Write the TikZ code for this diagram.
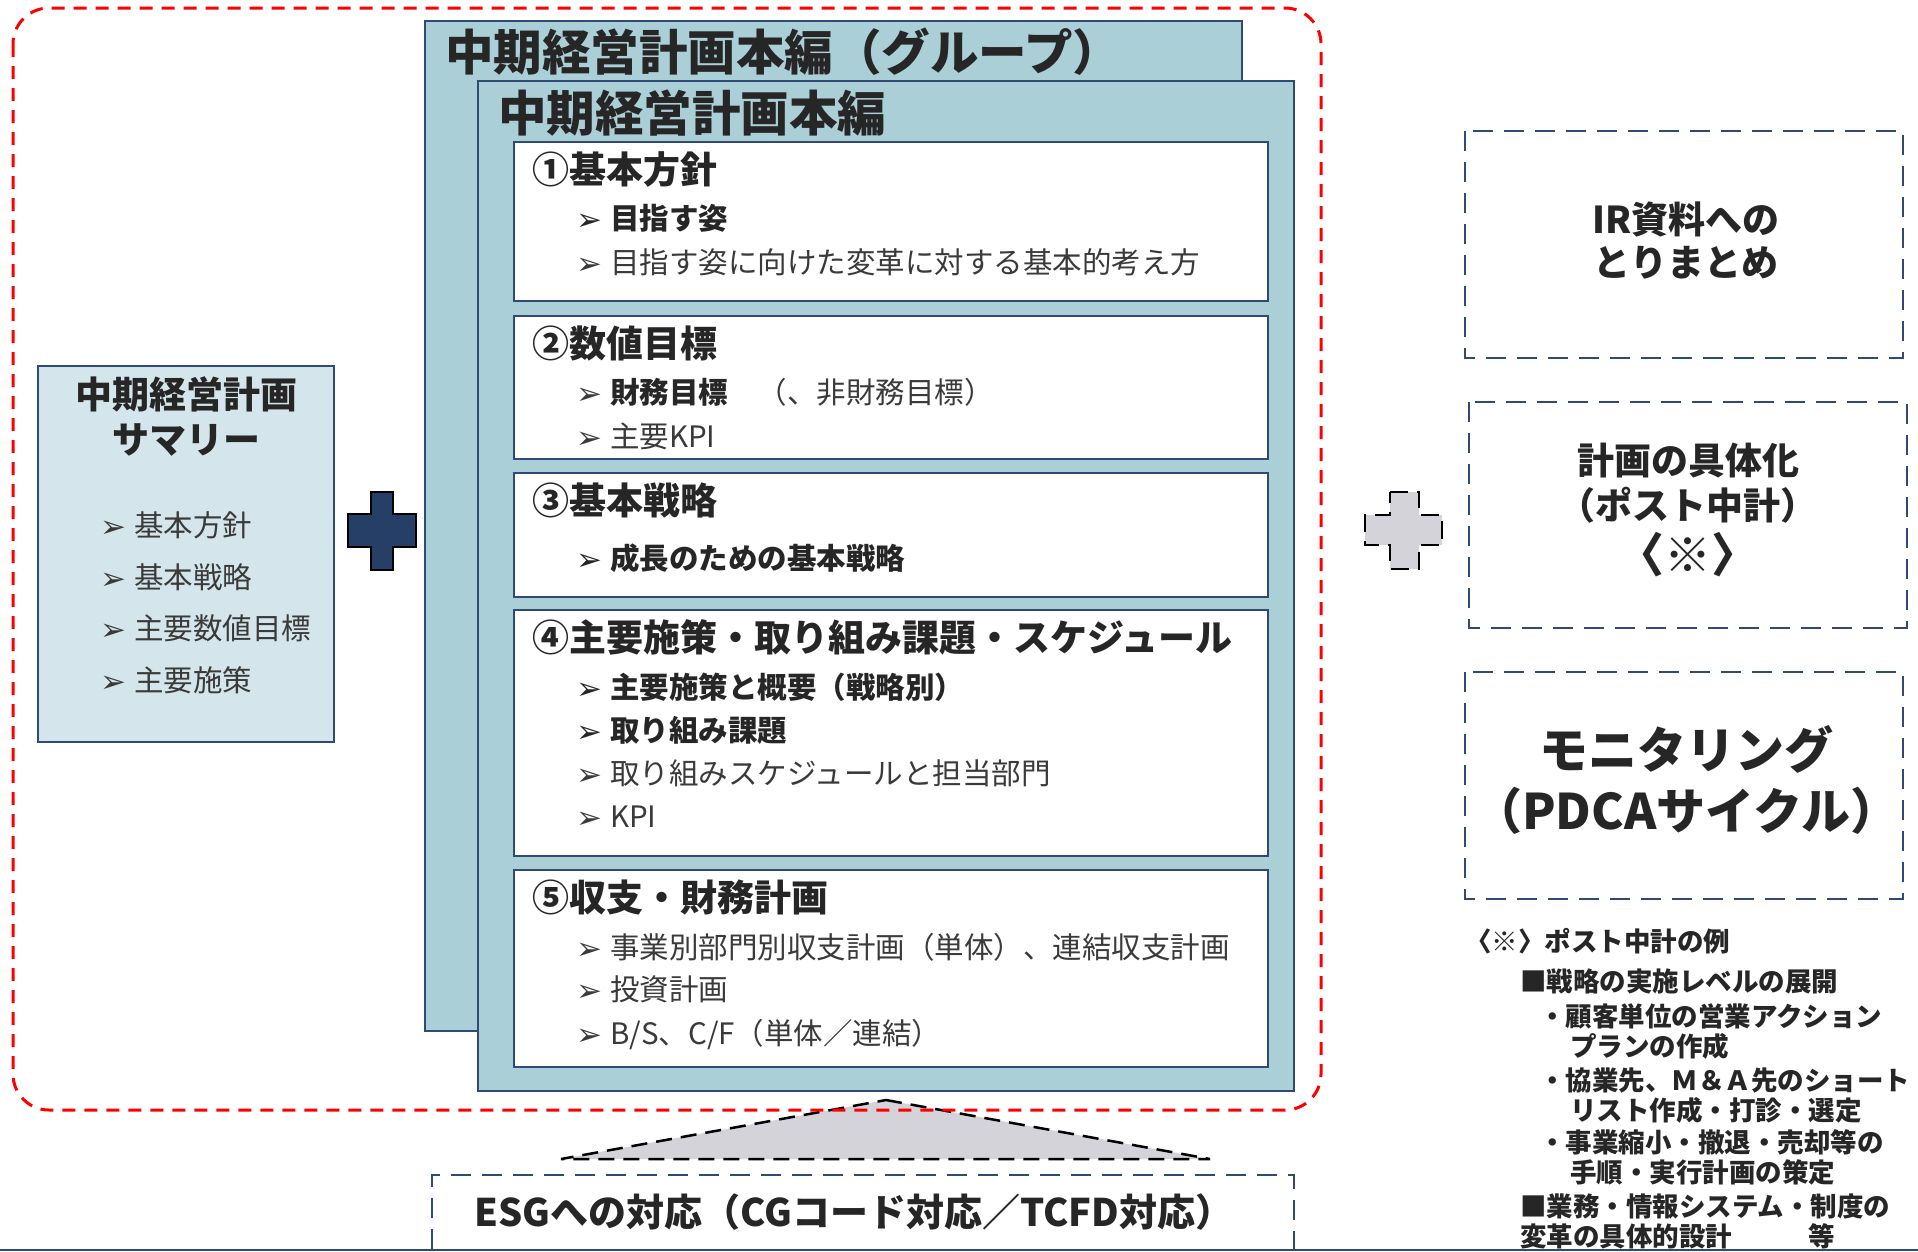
\documentclass[tikz,border=0pt]{standalone}
\usepackage{fontspec}
\setmainfont{Noto Sans CJK JP}
\newfontfamily\dejavu{DejaVu Sans}
\definecolor{tealA}{HTML}{ABCFD6}
\definecolor{tealB}{HTML}{D4E6EB}
\definecolor{navy}{HTML}{2F4A74}
\definecolor{plusnavy}{HTML}{263F66}
\definecolor{grayfill}{HTML}{D4D3DA}
\definecolor{ink}{HTML}{262626}
\definecolor{ink2}{HTML}{3A3A3A}
\newcommand\bulA{\makebox[18pt][l]{\raisebox{-1pt}{\dejavu\mdseries\fontsize{31}{31}\selectfont ➢}}\hspace{16pt}}
\tikzset{
  tbox/.style={fill=tealA, draw=navy, line width=2pt},
  sbox/.style={fill=tealB, draw=navy, line width=2pt},
  wbox/.style={fill=white, draw=navy, line width=2pt},
  dbox/.style={draw=navy, line width=2.5pt, dash pattern=on 20pt off 11pt},
  ttl/.style={anchor=west, inner sep=0pt, text=ink, font=\fontsize{48.5}{52}\selectfont\bfseries},
  hd/.style={anchor=west, inner sep=0pt, text=ink, font=\fontsize{37}{40}\selectfont\bfseries},
  itm/.style={anchor=west, inner sep=0pt, text=ink2, font=\fontsize{29.5}{32}\selectfont},
  itmb/.style={anchor=west, inner sep=0pt, text=ink, font=\fontsize{29.5}{32}\selectfont\bfseries},
  ctr/.style={anchor=center, inner sep=0pt, text=ink, align=center},
  fn/.style={anchor=west, inner sep=0pt, text=ink, font=\fontsize{26.5}{30}\selectfont\bfseries},
}
\begin{document}
\begin{tikzpicture}[x=1pt,y=-1pt]
\useasboundingbox (0,0) rectangle (1918,1251);
\fill[white] (0,0) rectangle (1918,1251);

% back box (group)
\draw[tbox] (425,21) rectangle (1242,1031);
\node[ttl] (tgroup) at (445,52) {中期経営計画本編（グループ）};
% front box
\draw[tbox] (478,81) rectangle (1294,1091);
\node[ttl] (tmain) at (498,113) {中期経営計画本編};

% section 1
\draw[wbox] (514,142) rectangle (1268,301);
\node[hd] (h1) at (532,169) {①基本方針};
\node[itmb] (i1a) at (576,218) {\bulA 目指す姿};
\node[itm] (i1b) at (576,262) {\bulA 目指す姿に向けた変革に対する基本的考え方};

% section 2
\draw[wbox] (514,316) rectangle (1268,459);
\node[hd] (h2) at (532,343) {②数値目標};
\node[itm] (i2a) at (576,392) {\bulA{\bfseries\color{ink}財務目標}　（、非財務目標）};
\node[itm] (i2b) at (576,436) {\bulA 主要KPI};

% section 3
\draw[wbox] (514,473) rectangle (1268,597);
\node[hd] (h3) at (532,500) {③基本戦略};
\node[itmb] (i3a) at (576,558) {\bulA 成長のための基本戦略};

% section 4
\draw[wbox] (514,610) rectangle (1268,856);
\node[hd] (h4) at (532,637) {④主要施策・取り組み課題・スケジュール};
\node[itmb] (i4a) at (576,687) {\bulA 主要施策と概要（戦略別）};
\node[itmb] (i4b) at (576,730) {\bulA 取り組み課題};
\node[itm] (i4c) at (576,773) {\bulA 取り組みスケジュールと担当部門};
\node[itm] (i4d) at (576,817) {\bulA KPI};

% section 5
\draw[wbox] (514,870) rectangle (1268,1067);
\node[hd] (h5) at (532,897) {⑤収支・財務計画};
\node[itm] (i5a) at (576,947) {\bulA 事業別部門別収支計画（単体）、連結収支計画};
\node[itm] (i5b) at (576,989) {\bulA 投資計画};
\node[itm] (i5c) at (576,1034) {\bulA B/S、C/F（単体／連結）};

% summary box
\draw[sbox] (38,366) rectangle (334,742);
\node[ctr, font=\fontsize{37}{45}\selectfont\bfseries] (sum) at (186,417) {中期経営計画\\サマリー};
\node[itm] (s1) at (100,525) {\bulA 基本方針};
\node[itm] (s2) at (100,577) {\bulA 基本戦略};
\node[itm] (s3) at (100,628) {\bulA 主要数値目標};
\node[itm] (s4) at (100,680) {\bulA 主要施策};

% navy plus
\draw[fill=plusnavy, draw=black, line width=1.5pt]
  (371,492) -- (393,492) -- (393,514) -- (416,514) -- (416,547) -- (393,547)
  -- (393,570) -- (371,570) -- (371,547) -- (348,547) -- (348,514) -- (371,514) -- cycle;

% gray dashed plus
\draw[fill=grayfill, draw=black, line width=2.5pt, dash pattern=on 18pt off 9pt]
  (1390,492) -- (1419,492) -- (1419,515) -- (1442,515) -- (1442,545) -- (1419,545)
  -- (1419,569) -- (1390,569) -- (1390,545) -- (1365,545) -- (1365,515) -- (1390,515) -- cycle;

% right dashed boxes
\draw[dbox] (1465,131) rectangle (1903,358);
\node[ctr, font=\fontsize{37}{43}\selectfont\bfseries] (ir) at (1686,241) {IR資料への\\とりまとめ};
\draw[dbox] (1469,402) rectangle (1907,628);
\node[ctr, font=\fontsize{37}{45}\selectfont\bfseries] (gutai) at (1688,483) {計画の具体化\\（ポスト中計）};
\node[ctr, font=\fontsize{47}{50}\selectfont\bfseries] (kome) at (1688,555) {〈※〉};
\draw[dbox] (1465,672) rectangle (1903,899);
\node[ctr, font=\fontsize{49}{61}\selectfont\bfseries] (mon) at (1686,780) {モニタリング\\（PDCAサイクル）};

% footnote
\node[fn] (f1) at (1465,941) {〈※〉ポスト中計の例};
\node[fn] (f2) at (1520,981) {■戦略の実施レベルの展開};
\node[fn] (f3) at (1539,1016) {・顧客単位の営業アクション};
\node[fn] (f4) at (1570,1046) {プランの作成};
\node[fn] (f5) at (1539,1080) {・協業先、Ｍ＆Ａ先のショート};
\node[fn] (f6) at (1570,1110) {リスト作成・打診・選定};
\node[fn] (f7) at (1539,1142) {・事業縮小・撤退・売却等の};
\node[fn] (f8) at (1570,1172) {手順・実行計画の策定};
\node[fn] (f9) at (1520,1206) {■業務・情報システム・制度の};
\node[fn] (f10) at (1520,1236) {変革の具体的設計\hspace{76pt}等};

% triangle
\draw[fill=grayfill, draw=black, line width=2.5pt, dash pattern=on 16pt off 9pt]
  (886,1100) -- (1210,1159) -- (561,1159) -- cycle;

% red dashed frame
\draw[red, line width=3pt, dash pattern=on 13pt off 9pt, rounded corners=36pt]
  (13,8) rectangle (1321,1110);

% ESG box
\draw[dbox] (432,1249) -- (432,1175) -- (1294,1175) -- (1294,1249);
\node[ctr, font=\fontsize{38}{40}\selectfont\bfseries] (esg) at (854,1212) {ESGへの対応（CGコード対応／TCFD対応）};

% bottom rule
\draw[navy, line width=2pt] (0,1249.5) -- (1918,1249.5);
\end{tikzpicture}
\end{document}
